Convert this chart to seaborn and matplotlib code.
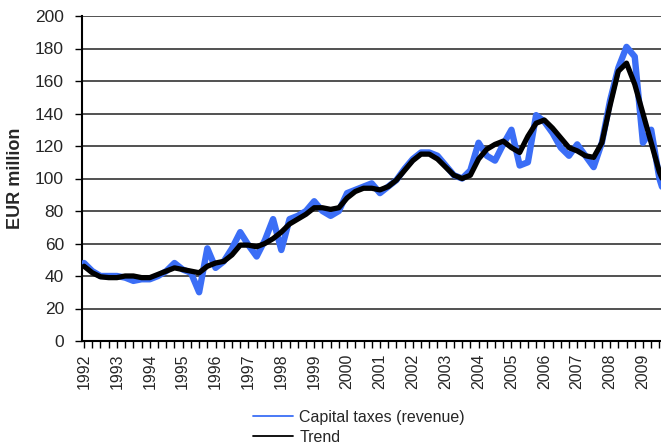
import matplotlib
matplotlib.use("Agg")
import matplotlib.pyplot as plt
import numpy as np
import pandas as pd
import seaborn as sns
from matplotlib.lines import Line2D

# quarterly values, 1992 Q1 .. 2009 Q4 (EUR million)
years = [str(y) for y in range(1992, 2010)]

revenue = [48, 43, 40, 40, 40, 39, 37, 38,
           38, 40, 43, 48, 44, 42, 30, 57,
           45, 49, 57, 67, 59, 52, 62, 75,
           56, 75, 77, 80, 86, 80, 77, 80,
           91, 93, 95, 97, 91, 95, 99, 106,
           112, 116, 116, 114, 108, 102, 100, 105,
           122, 114, 111, 121, 130, 108, 110, 139,
           135, 128, 119, 114, 121, 114, 107, 122,
           148, 168, 181, 175, 122, 130, 100, 84]

trend = [46, 42, 39.5, 39, 39, 40, 40, 39,
         39, 41, 43, 45, 44, 43, 42, 46,
         48, 49, 53, 59, 59, 58, 60, 63,
         67, 72, 75, 78, 82, 82, 81, 82,
         88, 92, 94, 94, 93, 95, 99, 105,
         111, 115, 115, 112, 107, 102, 100, 102,
         112, 118, 121, 123, 119, 116, 126, 134,
         136, 131, 125, 119, 117, 114, 113, 122,
         145, 166, 171, 158, 140, 122, 104, 92]

df = pd.DataFrame({"q": np.arange(len(revenue)), "revenue": revenue, "trend": trend})

sns.set_style("white")
plt.rcParams["font.family"] = ["Liberation Sans", "DejaVu Sans"]

fig = plt.figure(figsize=(6.61, 4.47), dpi=100)
ax = fig.add_axes([82 / 661, 1 - 341 / 447, 1 - 82 / 661 + 0.01, (341 - 16) / 447])

blue = "#3b6ef6"
sns.lineplot(data=df, x="q", y="revenue", ax=ax, color=blue, lw=4.6, zorder=3,
             solid_joinstyle="round", solid_capstyle="round")
sns.lineplot(data=df, x="q", y="trend", ax=ax, color="black", lw=3.8, zorder=4,
             solid_joinstyle="round", solid_capstyle="round")

ax.set_xlim(-0.25, 70.75)
ax.set_ylim(0, 200)
ax.set_yticks(range(0, 201, 20))
ax.yaxis.grid(True, color="#222222", lw=1.1)
ax.set_axisbelow(True)

ax.set_xticks(range(0, len(years) * 4, 4))
ax.set_xticklabels(years, rotation=90)
ax.set_xticks(range(len(revenue)), minor=True)
ax.tick_params(axis="x", which="both", direction="out", length=5, width=1, color="black",
               bottom=True, labelsize=11.5, pad=4)
ax.tick_params(axis="y", direction="out", length=5, width=1, color="black",
               left=True, labelsize=12.5, pad=8)

for s in ["top", "right"]:
    ax.spines[s].set_visible(False)
for s in ["left", "bottom"]:
    ax.spines[s].set_color("black")
    ax.spines[s].set_linewidth(1.5)

ax.set_xlabel("")
ax.set_ylabel("EUR million", fontsize=13, fontweight="bold", labelpad=8)

handles = [Line2D([], [], color=blue, lw=1.3), Line2D([], [], color="black", lw=1.3)]
fig.legend(handles, ["Capital taxes (revenue)", "Trend"], loc="upper left",
           bbox_to_anchor=(253 / 661, 1 - 410 / 447), frameon=False, fontsize=11.5,
           handlelength=2.5, handletextpad=0.4, labelspacing=0.3, borderpad=0,
           borderaxespad=0)

fig.savefig("out.png", dpi=100)
